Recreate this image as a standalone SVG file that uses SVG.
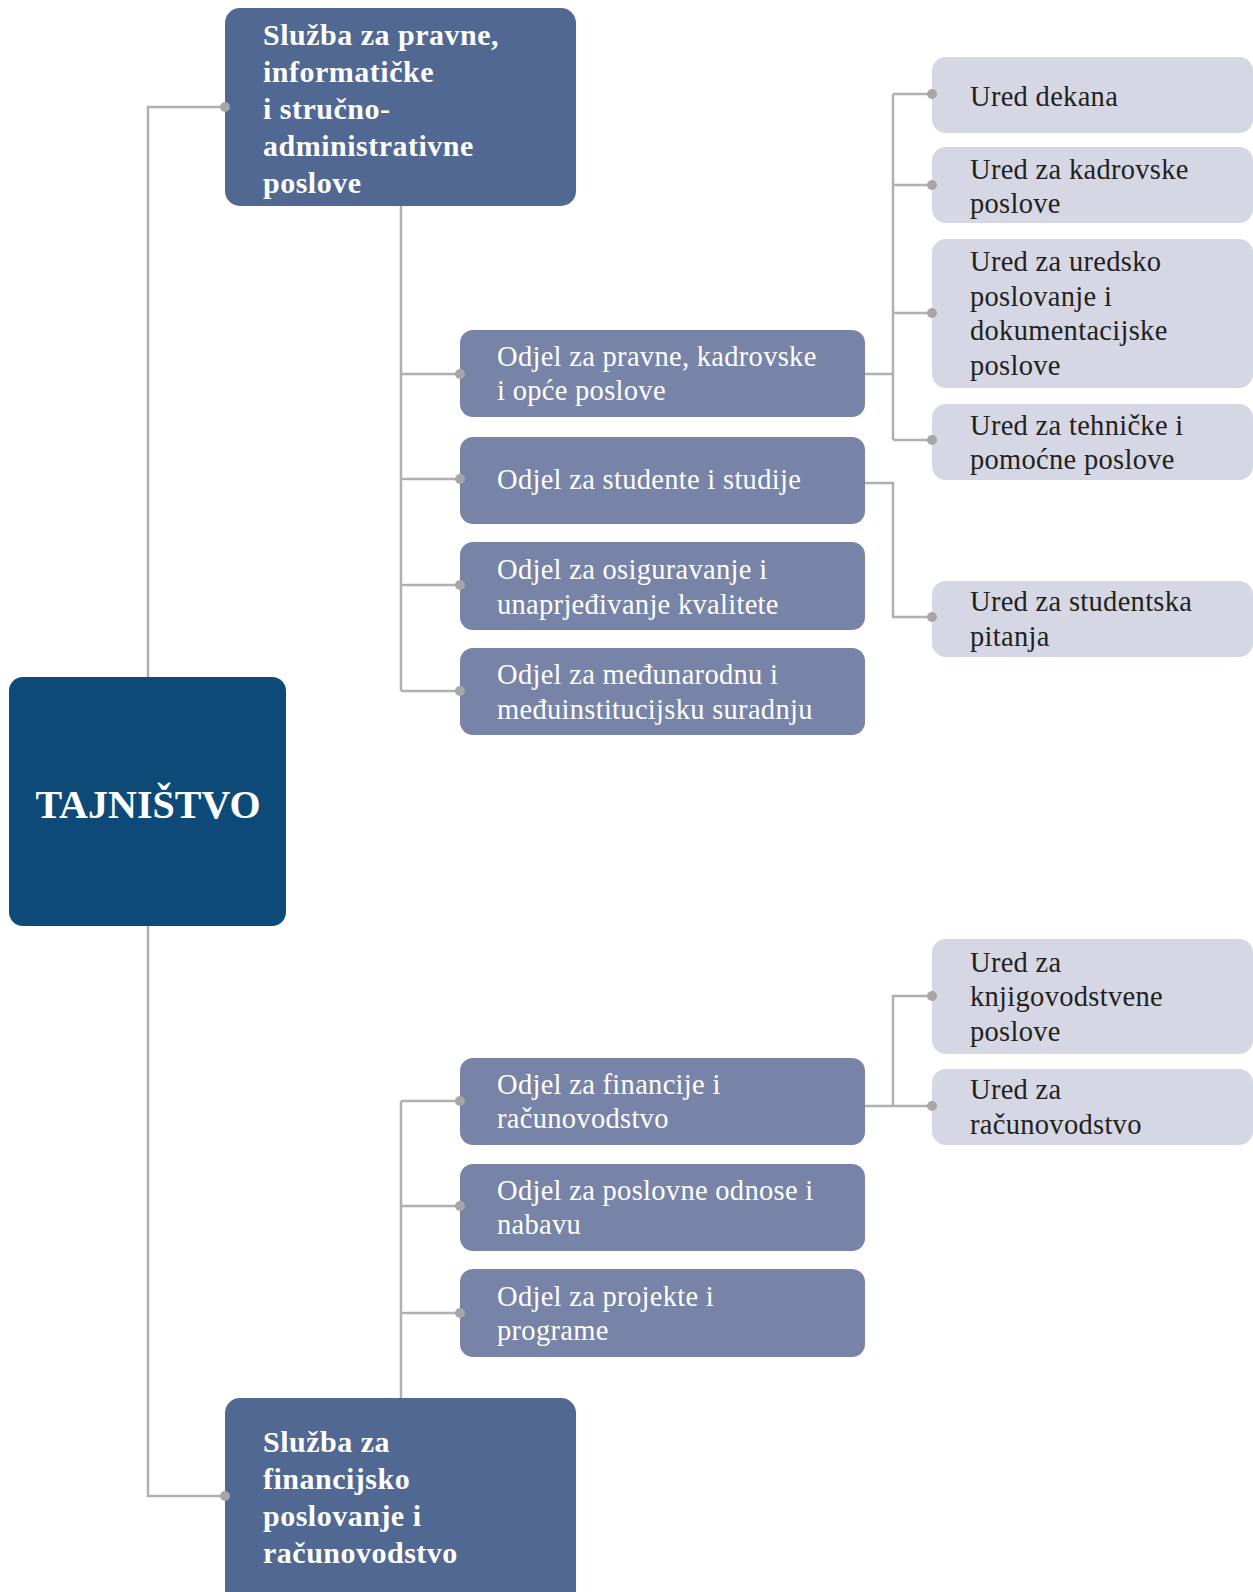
<svg xmlns="http://www.w3.org/2000/svg" width="1253" height="1592" viewBox="0 0 1253 1592">
<style>
.conn{fill:none;stroke:#b0b0b2;stroke-width:2.5}
.dot{fill:#a7a7a9}
.root{fill:#0e4a78}
.sluzba{fill:#506892}
.odjel{fill:#7783a7}
.ured{fill:#d5d7e4}
.tw{font-family:"Liberation Serif","Times New Roman",serif;fill:#ffffff}
.tb{font-family:"Liberation Serif","Times New Roman",serif;font-weight:bold;font-size:30px;letter-spacing:0.5px;fill:#ffffff}
.to{font-family:"Liberation Serif","Times New Roman",serif;font-size:28.5px;letter-spacing:0.3px;fill:#ffffff}
.tu{font-family:"Liberation Serif","Times New Roman",serif;font-size:28.5px;letter-spacing:0.3px;fill:#231f20}
</style>
<rect width="1253" height="1592" fill="#ffffff"/>
<g id="tajnistvo">
<rect class="root" x="9" y="677" width="277" height="249" rx="14"/>
<text class="tw" x="148" y="818" font-size="40" font-weight="bold" text-anchor="middle">TAJNIŠTVO</text>
</g>
<g id="sluzba-pravne">
<rect class="sluzba" x="225" y="8" width="351" height="198" rx="15"/>
<text class="tb"><tspan x="263" y="45">Služba za pravne,</tspan><tspan x="263" y="82">informatičke</tspan><tspan x="263" y="119">i stručno-</tspan><tspan x="263" y="156">administrativne</tspan><tspan x="263" y="193">poslove</tspan></text>
</g>
<g id="sluzba-financije">
<rect class="sluzba" x="225" y="1398" width="351" height="220" rx="15"/>
<text class="tb"><tspan x="263" y="1452">Služba za</tspan><tspan x="263" y="1489">financijsko</tspan><tspan x="263" y="1526">poslovanje i</tspan><tspan x="263" y="1563">računovodstvo</tspan></text>
</g>
<g id="odjel-pravne">
<rect class="odjel" x="460" y="330" width="405" height="87" rx="13"/>
<text class="to"><tspan x="497" y="366">Odjel za pravne, kadrovske</tspan><tspan x="497" y="400">i opće poslove</tspan></text>
</g>
<g id="odjel-studente">
<rect class="odjel" x="460" y="437" width="405" height="87" rx="13"/>
<text class="to" x="497" y="489">Odjel za studente i studije</text>
</g>
<g id="odjel-kvaliteta">
<rect class="odjel" x="460" y="542" width="405" height="88" rx="13"/>
<text class="to"><tspan x="497" y="579">Odjel za osiguravanje i</tspan><tspan x="497" y="614">unaprjeđivanje kvalitete</tspan></text>
</g>
<g id="odjel-medunarodnu">
<rect class="odjel" x="460" y="648" width="405" height="87" rx="13"/>
<text class="to"><tspan x="497" y="684">Odjel za međunarodnu i</tspan><tspan x="497" y="719">međuinstitucijsku suradnju</tspan></text>
</g>
<g id="odjel-financije">
<rect class="odjel" x="460" y="1058" width="405" height="87" rx="13"/>
<text class="to"><tspan x="497" y="1094">Odjel za financije i</tspan><tspan x="497" y="1128">računovodstvo</tspan></text>
</g>
<g id="odjel-poslovne">
<rect class="odjel" x="460" y="1164" width="405" height="87" rx="13"/>
<text class="to"><tspan x="497" y="1200">Odjel za poslovne odnose i</tspan><tspan x="497" y="1234">nabavu</tspan></text>
</g>
<g id="odjel-projekte">
<rect class="odjel" x="460" y="1269" width="405" height="88" rx="13"/>
<text class="to"><tspan x="497" y="1306">Odjel za projekte i</tspan><tspan x="497" y="1340">programe</tspan></text>
</g>
<g id="ured-dekana">
<rect class="ured" x="932" y="57" width="321" height="76" rx="14"/>
<text class="tu" x="970" y="106">Ured dekana</text>
</g>
<g id="ured-kadrovske">
<rect class="ured" x="932" y="147" width="321" height="76" rx="14"/>
<text class="tu"><tspan x="970" y="179">Ured za kadrovske</tspan><tspan x="970" y="213">poslove</tspan></text>
</g>
<g id="ured-uredsko">
<rect class="ured" x="932" y="239" width="321" height="149" rx="14"/>
<text class="tu"><tspan x="970" y="271">Ured za uredsko</tspan><tspan x="970" y="306">poslovanje i</tspan><tspan x="970" y="340">dokumentacijske</tspan><tspan x="970" y="375">poslove</tspan></text>
</g>
<g id="ured-tehnicke">
<rect class="ured" x="932" y="404" width="321" height="76" rx="14"/>
<text class="tu"><tspan x="970" y="435">Ured za tehničke i</tspan><tspan x="970" y="469">pomoćne poslove</tspan></text>
</g>
<g id="ured-studentska">
<rect class="ured" x="932" y="581" width="321" height="76" rx="14"/>
<text class="tu"><tspan x="970" y="611">Ured za studentska</tspan><tspan x="970" y="646">pitanja</tspan></text>
</g>
<g id="ured-knjigovodstvene">
<rect class="ured" x="932" y="939" width="321" height="115" rx="14"/>
<text class="tu"><tspan x="970" y="972">Ured za</tspan><tspan x="970" y="1006">knjigovodstvene</tspan><tspan x="970" y="1041">poslove</tspan></text>
</g>
<g id="ured-racunovodstvo">
<rect class="ured" x="932" y="1069" width="321" height="76" rx="14"/>
<text class="tu"><tspan x="970" y="1099">Ured za</tspan><tspan x="970" y="1134">računovodstvo</tspan></text>
</g>
<g id="connectors">
<path class="conn" d="M225,107 H148 V677"/>
<path class="conn" d="M148,926 V1496 H225"/>
<path class="conn" d="M401,206 V691"/>
<path class="conn" d="M401,374 H460 M401,479 H460 M401,585 H460 M401,691 H460"/>
<path class="conn" d="M865,374 H893 M893,94 V440 M893,94 H932 M893,185 H932 M893,313 H932 M893,440 H932"/>
<path class="conn" d="M865,483 H893 V617 H932"/>
<path class="conn" d="M401,1398 V1101"/>
<path class="conn" d="M401,1101 H460 M401,1206 H460 M401,1313 H460"/>
<path class="conn" d="M865,1106 H932 M893,1106 V996 H932"/>
<circle class="dot" cx="225" cy="107" r="5"/>
<circle class="dot" cx="225" cy="1496" r="5"/>
<circle class="dot" cx="460" cy="374" r="5"/>
<circle class="dot" cx="460" cy="479" r="5"/>
<circle class="dot" cx="460" cy="585" r="5"/>
<circle class="dot" cx="460" cy="691" r="5"/>
<circle class="dot" cx="460" cy="1101" r="5"/>
<circle class="dot" cx="460" cy="1206" r="5"/>
<circle class="dot" cx="460" cy="1313" r="5"/>
<circle class="dot" cx="932" cy="94" r="5"/>
<circle class="dot" cx="932" cy="185" r="5"/>
<circle class="dot" cx="932" cy="313" r="5"/>
<circle class="dot" cx="932" cy="440" r="5"/>
<circle class="dot" cx="932" cy="617" r="5"/>
<circle class="dot" cx="932" cy="996" r="5"/>
<circle class="dot" cx="932" cy="1106" r="5"/>
</g>
</svg>
